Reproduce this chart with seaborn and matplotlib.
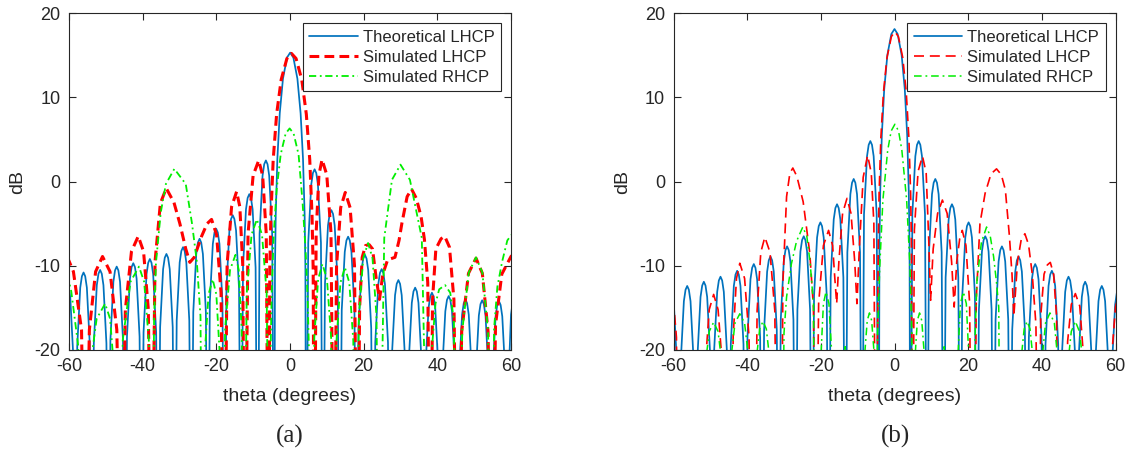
import matplotlib
matplotlib.use("Agg")
import numpy as np
import pandas as pd
import matplotlib.pyplot as plt
import seaborn as sns

# ---- data: (theta in degrees, level in dB) ----
# values of -45 mark deep pattern nulls (below the -20 dB axis floor)

# panel (a)
a_theo = [
    (-60.55, -12.0), (-60.1, -12.45), (-59.65, -13.8), (-58.84, -20.7), (-58.3, -45),
    (-57.76, -19.5), (-56.95, -12.6), (-56.5, -11.25), (-56.05, -10.8), (-55.6, -11.25), (-55.15, -12.6), (-54.34, -19.5), (-53.8, -45),
    (-53.26, -19.2), (-52.45, -12.3), (-52.0, -10.95), (-51.55, -10.5), (-51.1, -10.95), (-50.65, -12.3), (-49.84, -19.2), (-49.3, -45),
    (-48.76, -18.8), (-47.95, -11.9), (-47.5, -10.55), (-47.05, -10.1), (-46.6, -10.55), (-46.15, -11.9), (-45.34, -18.8), (-44.8, -45),
    (-44.26, -18.4), (-43.45, -11.5), (-43.0, -10.15), (-42.55, -9.7), (-42.1, -10.15), (-41.65, -11.5), (-40.84, -18.4), (-40.3, -45),
    (-39.76, -17.9), (-38.95, -11.0), (-38.5, -9.65), (-38.05, -9.2), (-37.6, -9.65), (-37.15, -11.0), (-36.34, -17.9), (-35.8, -45),
    (-35.26, -17.3), (-34.45, -10.4), (-34.0, -9.05), (-33.55, -8.6), (-33.1, -9.05), (-32.65, -10.4), (-31.84, -17.3), (-31.3, -45),
    (-30.76, -16.5), (-29.95, -9.6), (-29.5, -8.25), (-29.05, -7.8), (-28.6, -8.25), (-28.15, -9.6), (-27.34, -16.5), (-26.8, -45),
    (-26.26, -15.5), (-25.45, -8.6), (-25.0, -7.25), (-24.55, -6.8), (-24.1, -7.25), (-23.65, -8.6), (-22.84, -15.5), (-22.3, -45),
    (-21.76, -14.3), (-20.95, -7.4), (-20.5, -6.05), (-20.05, -5.6), (-19.6, -6.05), (-19.15, -7.4), (-18.34, -14.3), (-17.8, -45),
    (-17.26, -12.7), (-16.45, -5.8), (-16.0, -4.45), (-15.55, -4.0), (-15.1, -4.45), (-14.65, -5.8), (-13.84, -12.7), (-13.3, -45),
    (-12.76, -10.2), (-11.95, -3.3), (-11.5, -1.95), (-11.05, -1.5), (-10.6, -1.95), (-10.15, -3.3), (-9.34, -10.2), (-8.8, -45),
    (-8.26, -6.2), (-7.45, 0.7), (-7.0, 2.05), (-6.55, 2.5), (-6.1, 2.05), (-5.65, 0.7), (-4.84, -6.2), (-4.3, -45),
    (-4.08, -10.3), (-3.87, -3.9), (-3.43, 2.7), (-2.78, 8.1), (-1.91, 12.2), (-0.82, 14.7), (0.05, 15.3),
    (0.92, 14.7), (2.01, 12.2), (2.88, 8.1), (3.53, 2.7), (3.97, -3.9), (4.18, -10.3), (4.4, -45),
    (4.95, -7.25), (5.77, -0.35), (6.22, 1.0), (6.68, 1.45), (7.13, 1.0), (7.58, -0.35), (8.4, -7.25), (8.95, -45),
    (9.5, -12.1), (10.32, -5.2), (10.77, -3.85), (11.23, -3.4), (11.68, -3.85), (12.13, -5.2), (12.95, -12.1), (13.5, -45),
    (14.05, -15.25), (14.87, -8.35), (15.32, -7.0), (15.78, -6.55), (16.23, -7.0), (16.68, -8.35), (17.5, -15.25), (18.05, -45),
    (18.6, -17.4), (19.42, -10.5), (19.87, -9.15), (20.33, -8.7), (20.78, -9.15), (21.23, -10.5), (22.05, -17.4), (22.6, -45),
    (23.15, -19.1), (23.97, -12.2), (24.42, -10.85), (24.88, -10.4), (25.33, -10.85), (25.78, -12.2), (26.6, -19.1), (27.15, -45),
    (27.7, -20.4), (28.52, -13.5), (28.97, -12.15), (29.43, -11.7), (29.88, -12.15), (30.33, -13.5), (31.15, -20.4), (31.7, -45),
    (32.25, -21.3), (33.07, -14.4), (33.52, -13.05), (33.98, -12.6), (34.43, -13.05), (34.88, -14.4), (35.7, -21.3), (36.25, -45),
    (36.8, -21.9), (37.62, -15.0), (38.07, -13.65), (38.53, -13.2), (38.98, -13.65), (39.43, -15.0), (40.25, -21.9), (40.8, -45),
    (41.35, -22.3), (42.17, -15.4), (42.62, -14.05), (43.08, -13.6), (43.53, -14.05), (43.98, -15.4), (44.8, -22.3), (45.35, -45),
    (45.9, -22.7), (46.72, -15.8), (47.17, -14.45), (47.63, -14.0), (48.08, -14.45), (48.53, -15.8), (49.35, -22.7), (49.9, -45),
    (50.45, -22.8), (51.27, -15.9), (51.72, -14.55), (52.18, -14.1), (52.63, -14.55), (53.08, -15.9), (53.9, -22.8), (54.45, -45),
    (55.0, -22.9), (55.82, -16.0), (56.27, -14.65), (56.73, -14.2), (57.18, -14.65), (57.63, -16.0), (58.45, -22.9), (59.0, -45),
    (59.5, -21.5), (60.0, -15.8), (60.4, -14.5),
]

a_lhcp = [
    (-60.5, -8.9), (-58.8, -10.7), (-56.6, -17.6), (-55.6, -45),
    (-54.47, -17.6), (-52.78, -10.7), (-50.9, -8.9), (-48.86, -10.7), (-47.02, -17.6), (-45.8, -45),
    (-44.7, -15.2), (-43.04, -8.3), (-41.2, -6.5), (-39.76, -8.3), (-38.46, -15.2), (-37.6, -45),
    (-36.64, -9.5), (-35.2, -2.6), (-33.6, -0.8), (-31.5, -2.5), (-29.9, -5.0), (-28.3, -8.0), (-27.2, -9.6),
    (-26.0, -9.0), (-24.0, -6.5), (-22.5, -5.0), (-21.3, -4.5), (-19.94, -6.3), (-18.72, -13.2), (-17.9, -45),
    (-17.08, -9.9), (-15.86, -3.0), (-14.5, -1.2), (-13.62, -3.0), (-12.83, -9.9), (-12.3, -45),
    (-11.39, -6.2), (-10.02, 0.7), (-8.5, 2.5), (-7.42, 0.7), (-6.45, -6.2), (-5.8, -45),
    (-5.49, -10.4), (-5.18, -4.0), (-4.56, 2.6), (-3.63, 8.0), (-2.39, 12.1), (-0.84, 14.6), (0.4, 15.2),
    (1.64, 14.6), (3.19, 12.1), (4.43, 8.0), (5.36, 2.6), (5.98, -4.0), (6.29, -10.4), (6.6, -45),
    (7.1, -6.1), (7.86, 0.8), (8.7, 2.6), (9.98, 0.8), (11.13, -6.1), (11.9, -45),
    (12.64, -10.0), (13.76, -3.1), (15.0, -1.3), (16.32, -3.1), (17.51, -10.0), (18.3, -45),
    (18.9, -15.0), (19.6, -9.0), (20.5, -7.6), (21.5, -7.5), (22.4, -8.0), (23.4, -11.5), (24.3, -14.0),
    (25.2, -11.0), (26.5, -9.3), (28.5, -9.0), (29.6, -7.0), (30.4, -4.9), (31.8, -1.8), (33.0, -0.9),
    (34.3, -2.0), (35.6, -4.2), (36.5, -6.9), (37.4, -12.0), (38.1, -45),
    (38.7, -14.0), (39.6, -8.0), (41.0, -6.8), (42.0, -6.5), (43.3, -7.8), (44.5, -14.0), (45.4, -45),
    (46.62, -17.8), (48.46, -10.9), (50.5, -9.1), (52.22, -10.9), (53.77, -17.8), (54.8, -45),
    (55.8, -17.0), (57.5, -11.0), (60.0, -8.9), (61.0, -8.5),
]

a_rhcp = [
    (-60.5, -11.0), (-59.4, -13.0), (-57.5, -19.5), (-56.3, -45),
    (-54.6, -23.2), (-52.5, -16.3), (-50.2, -14.5), (-48.84, -16.3), (-47.62, -23.2), (-46.8, -45),
    (-45.4, -18.8), (-43.3, -11.9), (-41.0, -10.1), (-39.6, -11.9), (-38.34, -18.8), (-37.4, -45),
    (-36.9, -16.0), (-36.4, -9.7), (-35.1, -3.7), (-33.7, -0.3), (-31.4, 1.5), (-28.3, -0.3),
    (-26.6, -5.0), (-25.3, -9.5), (-24.3, -16.0), (-23.8, -45),
    (-23.13, -20.3), (-22.12, -13.4), (-21.0, -11.6), (-20.0, -13.4), (-19.1, -20.3), (-18.5, -45),
    (-17.61, -17.4), (-16.28, -10.5), (-14.8, -8.7), (-13.92, -10.5), (-13.13, -17.4), (-12.6, -45),
    (-11.74, -13.2), (-10.44, -6.3), (-9.0, -4.5), (-7.6, -6.3), (-6.34, -13.2), (-5.5, -45),
    (-5.23, -19.3), (-4.96, -12.9), (-4.42, -6.3), (-3.61, -0.9), (-2.53, 3.2), (-1.18, 5.7), (-0.1, 6.3),
    (0.98, 5.7), (2.33, 3.2), (3.41, -2.5), (4.22, -8.0), (4.76, -13.5), (5.1, -19.3), (5.9, -45),
    (6.6, -18.5), (7.64, -11.6), (8.8, -9.8), (10.04, -11.6), (11.16, -18.5), (11.9, -45),
    (12.62, -18.9), (13.7, -12.0), (14.9, -10.2), (16.1, -12.0), (17.18, -18.9), (17.9, -45),
    (18.69, -16.0), (19.88, -9.1), (21.2, -7.3), (22.4, -9.1), (23.48, -16.0), (24.2, -45),
    (25.59, -6.7), (27.68, 0.2), (30.0, 2.0), (32.56, 0.2), (35.78, -6.7), (37.6, -45),
    (38.5, -20.0), (39.5, -14.5), (40.5, -12.8), (42.1, -12.3), (43.5, -13.2), (44.5, -16.5), (45.3, -45),
    (46.78, -17.7), (48.54, -10.8), (50.5, -9.0), (52.22, -10.8), (53.77, -17.7), (54.8, -45),
    (55.4, -17.5), (56.3, -12.5), (57.6, -9.5), (59.0, -7.0), (60.0, -6.4), (61.0, -6.0),
]

# panel (b)
b_theo = [
    (-60.8, -12.8), (-60.35, -13.25), (-59.9, -14.6), (-59.08, -21.5), (-58.54, -45),
    (-58.0, -21.1), (-57.18, -14.2), (-56.73, -12.85), (-56.28, -12.4), (-55.83, -12.85), (-55.38, -14.2), (-54.56, -21.1), (-54.02, -45),
    (-53.48, -20.6), (-52.66, -13.7), (-52.21, -12.35), (-51.76, -11.9), (-51.31, -12.35), (-50.86, -13.7), (-50.04, -20.6), (-49.5, -45),
    (-48.96, -20.0), (-48.14, -13.1), (-47.69, -11.75), (-47.24, -11.3), (-46.79, -11.75), (-46.34, -13.1), (-45.52, -20.0), (-44.98, -45),
    (-44.44, -19.3), (-43.62, -12.4), (-43.17, -11.05), (-42.72, -10.6), (-42.27, -11.05), (-41.82, -12.4), (-41.0, -19.3), (-40.46, -45),
    (-39.92, -18.5), (-39.1, -11.6), (-38.65, -10.25), (-38.2, -9.8), (-37.75, -10.25), (-37.3, -11.6), (-36.48, -18.5), (-35.94, -45),
    (-35.4, -17.6), (-34.58, -10.7), (-34.13, -9.35), (-33.68, -8.9), (-33.23, -9.35), (-32.78, -10.7), (-31.96, -17.6), (-31.42, -45),
    (-30.88, -16.4), (-30.06, -9.5), (-29.61, -8.15), (-29.16, -7.7), (-28.71, -8.15), (-28.26, -9.5), (-27.44, -16.4), (-26.9, -45),
    (-26.36, -15.2), (-25.54, -8.3), (-25.09, -6.95), (-24.64, -6.5), (-24.19, -6.95), (-23.74, -8.3), (-22.92, -15.2), (-22.38, -45),
    (-21.84, -13.55), (-21.02, -6.65), (-20.57, -5.3), (-20.12, -4.85), (-19.67, -5.3), (-19.22, -6.65), (-18.4, -13.55), (-17.86, -45),
    (-17.32, -11.4), (-16.5, -4.5), (-16.05, -3.15), (-15.6, -2.7), (-15.15, -3.15), (-14.7, -4.5), (-13.88, -11.4), (-13.34, -45),
    (-12.8, -8.4), (-11.98, -1.5), (-11.53, -0.15), (-11.08, 0.3), (-10.63, -0.15), (-10.18, -1.5), (-9.36, -8.4), (-8.82, -45),
    (-8.28, -3.9), (-7.46, 3.0), (-7.01, 4.35), (-6.56, 4.8), (-6.11, 4.35), (-5.66, 3.0), (-4.84, -3.9), (-4.3, -45),
    (-4.085, -7.5), (-3.87, -1.1), (-3.44, 5.5), (-2.8, 10.9), (-1.94, 15.0), (-0.86, 17.5), (0.0, 18.1),
    (0.86, 17.5), (1.94, 15.0), (2.8, 10.9), (3.44, 5.5), (3.87, -1.1), (4.085, -7.5), (4.3, -45),
    (4.84, -3.9), (5.66, 3.0), (6.11, 4.35), (6.56, 4.8), (7.01, 4.35), (7.46, 3.0), (8.28, -3.9), (8.82, -45),
    (9.36, -8.4), (10.18, -1.5), (10.63, -0.15), (11.08, 0.3), (11.53, -0.15), (11.98, -1.5), (12.8, -8.4), (13.34, -45),
    (13.88, -11.4), (14.7, -4.5), (15.15, -3.15), (15.6, -2.7), (16.05, -3.15), (16.5, -4.5), (17.32, -11.4), (17.86, -45),
    (18.4, -13.55), (19.22, -6.65), (19.67, -5.3), (20.12, -4.85), (20.57, -5.3), (21.02, -6.65), (21.84, -13.55), (22.38, -45),
    (22.92, -15.2), (23.74, -8.3), (24.19, -6.95), (24.64, -6.5), (25.09, -6.95), (25.54, -8.3), (26.36, -15.2), (26.9, -45),
    (27.44, -16.4), (28.26, -9.5), (28.71, -8.15), (29.16, -7.7), (29.61, -8.15), (30.06, -9.5), (30.88, -16.4), (31.42, -45),
    (31.96, -17.6), (32.78, -10.7), (33.23, -9.35), (33.68, -8.9), (34.13, -9.35), (34.58, -10.7), (35.4, -17.6), (35.94, -45),
    (36.48, -18.5), (37.3, -11.6), (37.75, -10.25), (38.2, -9.8), (38.65, -10.25), (39.1, -11.6), (39.92, -18.5), (40.46, -45),
    (41.0, -19.3), (41.82, -12.4), (42.27, -11.05), (42.72, -10.6), (43.17, -11.05), (43.62, -12.4), (44.44, -19.3), (44.98, -45),
    (45.52, -20.0), (46.34, -13.1), (46.79, -11.75), (47.24, -11.3), (47.69, -11.75), (48.14, -13.1), (48.96, -20.0), (49.5, -45),
    (50.04, -20.6), (50.86, -13.7), (51.31, -12.35), (51.76, -11.9), (52.21, -12.35), (52.66, -13.7), (53.48, -20.6), (54.02, -45),
    (54.56, -21.1), (55.38, -14.2), (55.83, -12.85), (56.28, -12.4), (56.73, -12.85), (57.18, -14.2), (58.0, -21.1), (58.54, -45),
    (59.08, -21.5), (59.9, -14.6), (60.35, -13.25), (60.8, -12.8),
]

b_lhcp = [
    (-60.5, -14.0), (-59.9, -14.8), (-59.2, -18.5), (-58.7, -45),
    (-52.1, -45), (-51.4, -22.0), (-50.3, -15.2), (-49.1, -13.4), (-47.9, -15.2), (-46.7, -22.0), (-45.9, -45),
    (-44.4, -45), (-43.8, -18.4), (-42.9, -11.5), (-42.0, -9.7), (-40.7, -11.5), (-39.5, -18.4), (-38.7, -45),
    (-38.0, -45), (-37.3, -15.3), (-36.3, -8.4), (-35.2, -6.6), (-33.8, -8.4), (-32.5, -15.3), (-31.7, -45),
    (-30.8, -45), (-30.3, -12.0), (-29.3, -1.8), (-28.4, 1.0), (-27.6, 1.6), (-26.5, 0.6), (-24.8, -2.4),
    (-23.0, -8.5), (-22.0, -15.0), (-21.4, -45),
    (-20.6, -14.5), (-19.3, -7.6), (-17.9, -5.8), (-16.8, -7.6), (-16.2, -11.5), (-15.7, -14.5),
    (-15.1, -9.5), (-14.1, -3.8), (-12.9, -2.0), (-11.8, -3.8), (-10.8, -9.5), (-10.2, -14.5),
    (-9.5, -7.5), (-8.5, 0.5), (-7.3, 3.1), (-6.3, 1.0), (-5.6, -5.0), (-5.1, -45),
    (-4.41, -7.8), (-4.18, -1.4), (-3.7, 5.2), (-2.99, 10.6), (-2.04, 14.7), (-0.85, 17.2), (0.1, 17.8),
    (1.05, 17.2), (2.24, 14.7), (3.19, 10.6), (3.9, 5.2), (4.38, -1.4), (4.61, -7.8), (4.85, -45),
    (5.4, -5.7), (6.4, 1.2), (7.6, 3.0), (8.6, 1.0), (9.3, -7.0), (9.8, -14.1),
    (10.5, -8.0), (11.7, -3.8), (13.0, -2.2), (14.3, -3.8), (15.5, -9.5), (16.2, -14.9),
    (16.9, -9.5), (17.7, -6.8), (18.4, -5.8), (19.4, -7.6), (20.4, -14.5), (21.0, -45),
    (21.6, -45), (22.2, -14.0), (23.2, -5.0), (24.6, -1.4), (26.2, 0.9), (27.7, 1.5), (29.0, 0.8),
    (30.1, -1.0), (31.2, -6.5), (31.9, -11.0), (32.4, -16.0),
    (33.4, -9.5), (34.4, -6.9), (35.4, -6.2), (36.4, -7.5), (37.4, -11.0), (38.4, -17.0), (39.1, -45),
    (39.7, -16.0), (40.6, -11.0), (41.5, -9.9), (42.3, -9.6), (43.2, -11.0), (44.0, -16.0), (44.6, -45),
    (46.3, -45), (47.0, -19.0), (48.0, -14.6), (49.1, -13.3), (50.3, -14.8), (51.1, -19.5), (51.6, -45),
    (58.6, -45), (59.1, -20.0), (60.0, -14.9), (60.5, -14.0),
]

b_rhcp = [
    (-51.8, -45), (-51.3, -21.5), (-50.3, -17.8), (-49.1, -16.7), (-47.9, -17.8), (-46.9, -21.5), (-46.4, -45),
    (-44.9, -45), (-44.4, -21.0), (-43.3, -16.8), (-42.0, -15.7), (-40.7, -16.8), (-39.6, -21.0), (-39.1, -45),
    (-38.0, -45), (-37.5, -21.0), (-36.6, -17.5), (-35.7, -16.6), (-34.8, -17.5), (-33.9, -21.0), (-33.4, -45),
    (-30.7, -45), (-30.0, -18.0), (-29.3, -13.7), (-28.0, -9.8), (-26.6, -7.1), (-24.9, -5.4), (-23.8, -6.5),
    (-22.9, -9.7), (-22.0, -14.5), (-21.5, -45),
    (-20.3, -45), (-19.9, -20.0), (-19.3, -14.5), (-18.6, -13.1), (-17.8, -14.5), (-17.1, -20.0), (-16.7, -45),
    (-14.0, -45), (-13.4, -19.6), (-12.8, -45),
    (-8.4, -45), (-8.0, -20.0), (-7.4, -16.5), (-6.8, -15.6), (-6.2, -16.5), (-5.6, -20.0), (-5.2, -45),
    (-4.9, -45), (-4.6, -18.0), (-4.0, -10.1), (-3.15, -2.2), (-1.85, 3.7), (-0.9, 6.0), (0.1, 6.8),
    (1.1, 6.0), (2.0, 3.7), (3.3, -2.2), (4.2, -10.1), (4.7, -18.0), (5.0, -45),
    (5.3, -45), (5.7, -20.0), (6.2, -16.5), (6.8, -15.6), (7.4, -16.5), (8.0, -20.0), (8.4, -45),
    (12.9, -45), (13.5, -19.6), (14.1, -45),
    (16.9, -45), (17.3, -20.0), (17.9, -14.5), (18.7, -13.1), (19.5, -14.5), (20.1, -20.0), (20.5, -45),
    (21.4, -45), (21.9, -18.0), (22.4, -11.7), (23.6, -7.2), (25.0, -5.4), (26.0, -6.5), (26.9, -8.9),
    (27.7, -12.0), (28.3, -14.9), (28.8, -45),
    (33.9, -45), (34.4, -21.0), (35.2, -17.5), (36.0, -16.6), (36.8, -17.5), (37.6, -21.0), (38.1, -45),
    (39.6, -45), (40.1, -21.0), (41.0, -16.8), (42.2, -15.6), (43.4, -16.8), (44.3, -21.0), (44.8, -45),
    (46.6, -45), (47.1, -21.5), (48.0, -17.8), (49.1, -16.6), (50.2, -17.8), (51.2, -21.5), (51.7, -45),
]

series_labels = ["Theoretical LHCP", "Simulated LHCP", "Simulated RHCP"]
x_ticks = [-60, -40, -20, 0, 20, 40, 60]
y_ticks = [-20, -10, 0, 10, 20]

sns.set_theme(style="ticks")
plt.rcParams["font.family"] = ["Liberation Sans", "DejaVu Sans"]
plt.rcParams["axes.unicode_minus"] = False

BLUE = "#0072BD"
RED = "#FF0000"
GREEN = "#00EE00"


def draw_panel(ax, theo, lhcp, rhcp, red_lw, red_dash, green_lw, green_dash):
    d_theo = pd.DataFrame(theo, columns=["theta", "dB"])
    d_lhcp = pd.DataFrame(lhcp, columns=["theta", "dB"])
    d_rhcp = pd.DataFrame(rhcp, columns=["theta", "dB"])
    sns.lineplot(data=d_theo, x="theta", y="dB", ax=ax, color=BLUE, lw=1.25,
                 label=series_labels[0], estimator=None, sort=False)
    sns.lineplot(data=d_lhcp, x="theta", y="dB", ax=ax, color=RED, lw=red_lw,
                 linestyle=(0, red_dash), label=series_labels[1], estimator=None, sort=False)
    sns.lineplot(data=d_rhcp, x="theta", y="dB", ax=ax, color=GREEN, lw=green_lw,
                 linestyle=(0, green_dash), label=series_labels[2], estimator=None, sort=False)

    ax.set_xlim(-60, 60)
    ax.set_ylim(-20, 20)
    ax.set_xticks(x_ticks)
    ax.set_yticks(y_ticks)
    ax.set_xlabel("theta (degrees)", fontsize=14, labelpad=9)
    ax.set_ylabel("dB", fontsize=14, labelpad=6)
    ax.tick_params(direction="in", length=5, width=0.8, labelsize=13, pad=6,
                   top=True, right=True, colors="#262626")
    for sp in ax.spines.values():
        sp.set_visible(True)
        sp.set_color("#262626")
        sp.set_linewidth(0.8)
    leg = ax.legend(loc="upper right", fontsize=12, frameon=True, fancybox=False,
                    edgecolor="#262626", framealpha=1, borderaxespad=0.6,
                    handlelength=2.9, handletextpad=0.3, labelspacing=0.3,
                    borderpad=0.4)
    leg.get_frame().set_linewidth(0.8)


fig = plt.figure(figsize=(11.3, 4.54), dpi=100)
ax_a = fig.add_axes([69 / 1130, 1 - 350 / 454, 442 / 1130, 337 / 454])
ax_b = fig.add_axes([673.5 / 1130, 1 - 350 / 454, 442 / 1130, 337 / 454])

draw_panel(ax_a, a_theo, a_lhcp, a_rhcp, 2.2, (3.2, 1.7), 1.3, (4, 2, 1, 2))
draw_panel(ax_b, b_theo, b_lhcp, b_rhcp, 1.2, (6, 3.5), 1.1, (5, 2.5, 1.2, 2.5))

fig.text(290 / 1130, 1 - 436 / 454, "(a)", ha="center", va="center",
         fontsize=18, family=["Liberation Serif", "DejaVu Serif"])
fig.text(895 / 1130, 1 - 436 / 454, "(b)", ha="center", va="center",
         fontsize=18, family=["Liberation Serif", "DejaVu Serif"])

fig.savefig("out.png", dpi=100)
